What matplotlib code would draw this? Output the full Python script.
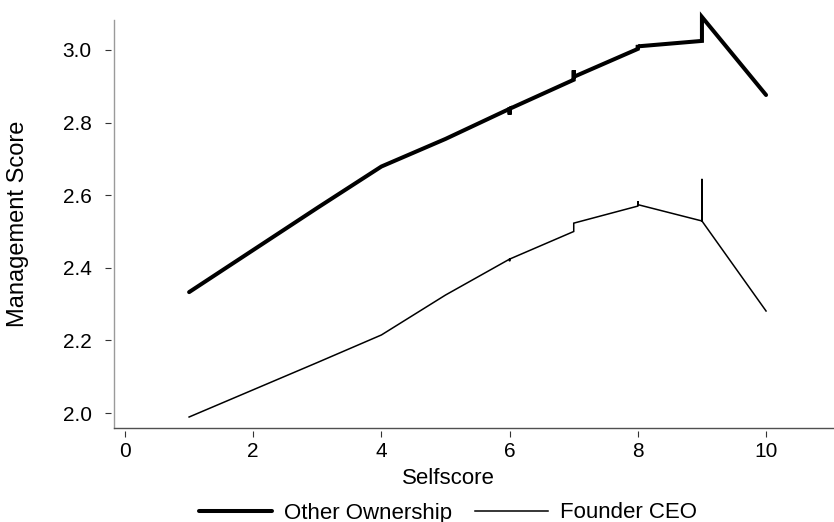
import matplotlib
matplotlib.use("Agg")
from matplotlib import pyplot as plt

plt.rcParams['font.family'] = ['Liberation Sans', 'DejaVu Sans']

# Selfscore (repeated x where the series has several values at one score)
x_other = [1, 2, 3, 4, 5, 6, 6, 6, 7, 7, 7, 8, 8, 8, 9, 9, 10]
y_other = [2.333, 2.449, 2.565, 2.679, 2.755, 2.838, 2.822, 2.838,
           2.918, 2.944, 2.926, 3.003, 3.014, 3.010, 3.025, 3.091, 2.876]

x_founder = [1, 2, 3, 4, 5, 6, 6, 6, 7, 7, 8, 8, 8, 9, 9, 9, 10]
y_founder = [1.989, 2.064, 2.139, 2.215, 2.325, 2.424, 2.418, 2.424,
             2.500, 2.523, 2.570, 2.584, 2.574, 2.529, 2.645, 2.529, 2.281]

xticks = [0, 2, 4, 6, 8, 10]
yticks = [2.0, 2.2, 2.4, 2.6, 2.8, 3.0]

fig = plt.figure(figsize=(8.34, 5.22), dpi=100)
ax = fig.add_axes([114/834, 94/522, 720/834, 408/522])

l1, = ax.plot(x_other, y_other, color='black', lw=2.9, solid_joinstyle='miter',
              solid_capstyle='round', clip_on=False, label='Other Ownership')
l2, = ax.plot(x_founder, y_founder, color='black', lw=1.1, solid_joinstyle='miter',
              clip_on=False, label='Founder CEO')

ax.set_xlim(-0.1716, 11.06)
ax.set_ylim(1.9587, 3.0826)
ax.set_xticks(xticks)
ax.set_yticks(yticks)
ax.set_yticklabels(['%.1f' % v for v in yticks])

# ticks sit a little away from the axis lines, so offset the (hidden) spines
for s in ['top', 'right']:
    ax.spines[s].set_visible(False)
for s in ['left', 'bottom']:
    ax.spines[s].set_position(('outward', 2.2))
    ax.spines[s].set_visible(False)
ax.plot([0, 0], [0, 1], transform=ax.transAxes, color='#9a9a9a', lw=1.0, clip_on=False)
ax.plot([0, 1], [0, 0], transform=ax.transAxes, color='#505050', lw=1.0, clip_on=False)

ax.tick_params(axis='both', length=4.3, width=0.8, color='#333333', labelsize=15)
ax.tick_params(axis='y', pad=9.5)
ax.tick_params(axis='x', pad=3.5)

fig.text(448/834, 1 - 479/522, 'Selfscore', ha='center', va='center', fontsize=16)
fig.text(18/834, 1 - 224/522, 'Management Score', ha='center', va='center',
         rotation=90, fontsize=17)

fig.legend(handles=[l1, l2], loc='center', bbox_to_anchor=(448/834, 1 - 513/522),
           ncol=2, frameon=False, fontsize=16, handlelength=3.29,
           handletextpad=0.54, columnspacing=1.0, borderpad=0, borderaxespad=0)

fig.savefig('out.png', dpi=100)
